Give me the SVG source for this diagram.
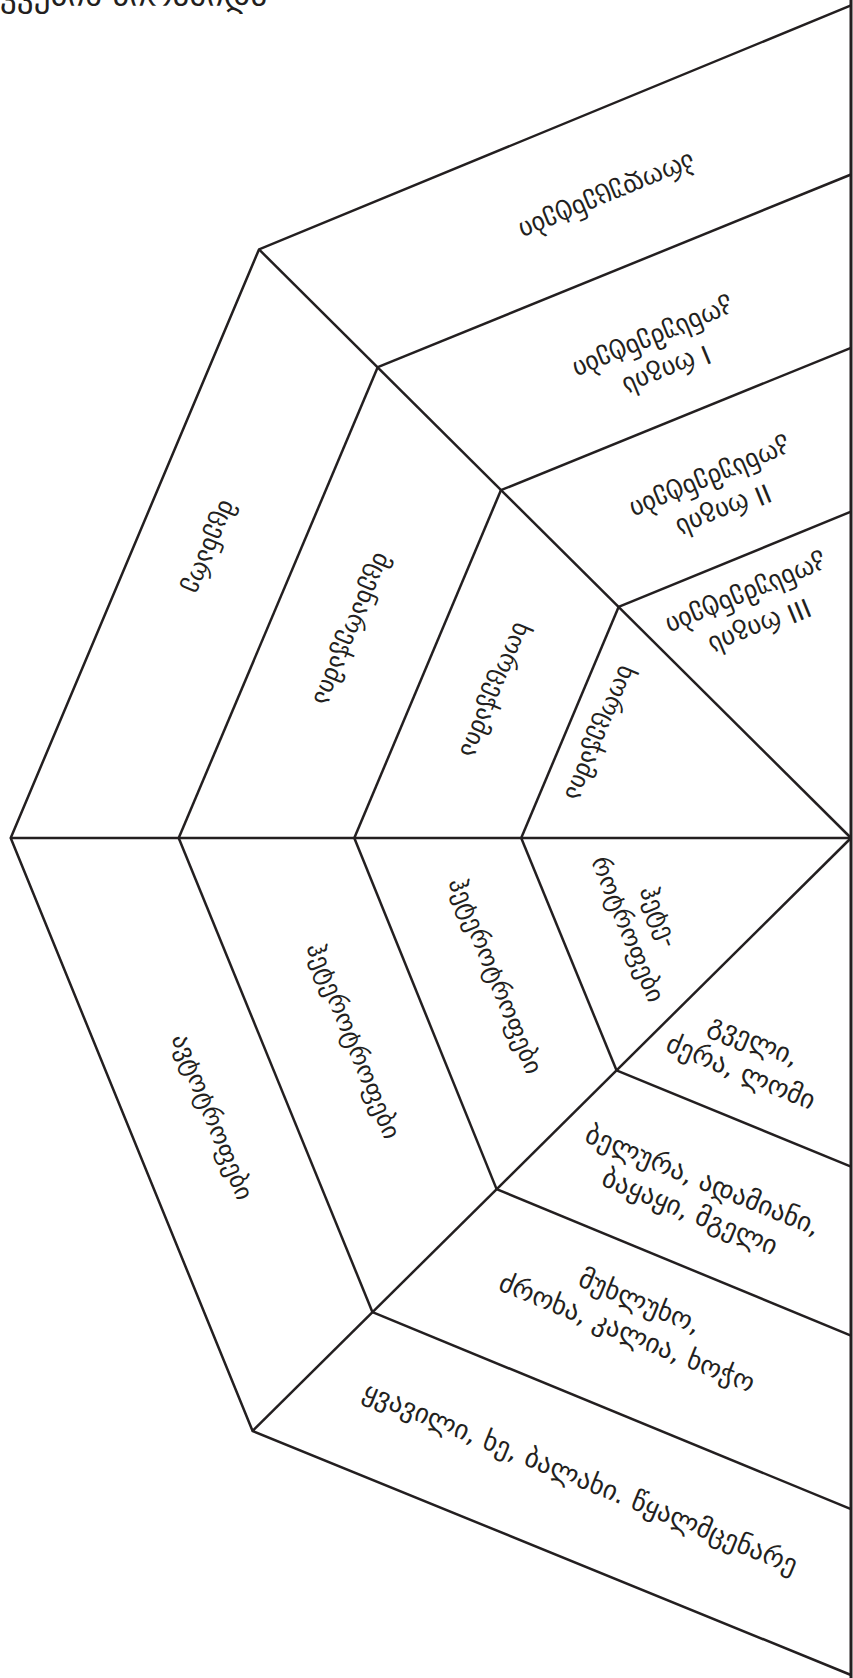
<svg xmlns="http://www.w3.org/2000/svg" width="853" height="1678" viewBox="0 0 853 1678">
<style>
.ln{fill:none;stroke:#231f20;stroke-width:2.5;stroke-linejoin:miter}
.t{font-family:"DejaVu Sans",sans-serif;font-size:25px;fill:#231f20;text-anchor:middle}
.tr{font-size:26px}
.br{font-size:27px}
</style>
<rect width="853" height="1678" fill="#fff"/>
<text id="title" x="0" y="6" style="font-family:'DejaVu Sans',sans-serif;font-size:33px;fill:#231f20">კვების პირამიდა</text>
<g id="connectors">
<line class="ln" x1="851" y1="0" x2="851" y2="1678" style="stroke-width:3"/>
<polyline class="ln" points="851,5.4 259,249.4 10.7,838 252.6,1431 851,1675"/>
<line class="ln" x1="10.7" y1="838" x2="851" y2="838"/>
<line class="ln" x1="259" y1="249.4" x2="851" y2="838"/>
<line class="ln" x1="252.6" y1="1431" x2="851" y2="838"/>
<line class="ln" x1="178.7" y1="838" x2="377.8" y2="367.1"/>
<line class="ln" x1="354.3" y1="838" x2="500.9" y2="490.2"/>
<line class="ln" x1="521.2" y1="838" x2="618.6" y2="606.9"/>
<line class="ln" x1="178.7" y1="838" x2="372.5" y2="1312.2"/>
<line class="ln" x1="354.3" y1="838" x2="496.6" y2="1189.1"/>
<line class="ln" x1="521.2" y1="838" x2="616.5" y2="1070.3"/>
<line class="ln" x1="377.8" y1="367.1" x2="851" y2="174.5"/>
<line class="ln" x1="500.9" y1="490.2" x2="851" y2="347.8"/>
<line class="ln" x1="618.6" y1="606.9" x2="851" y2="511.6"/>
<line class="ln" x1="372.5" y1="1312.2" x2="851" y2="1509.1"/>
<line class="ln" x1="496.6" y1="1189.1" x2="851" y2="1335.7"/>
<line class="ln" x1="616.5" y1="1070.3" x2="851" y2="1166.6"/>
</g>
<g id="n-producers" transform="translate(607,196) rotate(157.6)"><text class="t tr" y="8">პროდუცენტები</text></g>
<g id="n-cons1" transform="translate(660,354) rotate(157.6)"><text class="t tr" y="-9">I რიგის</text><text class="t tr" y="25">კონსუმენტები</text></g>
<g id="n-cons2" transform="translate(717,494) rotate(157.6)"><text class="t tr" y="-9">II რიგის</text><text class="t tr" y="25">კონსუმენტები</text></g>
<g id="n-cons3" transform="translate(753,610) rotate(157.6)"><text class="t tr" y="-9">III რიგის</text><text class="t tr" y="25">კონსუმენტები</text></g>
<g id="n-tl1" transform="translate(210,547) rotate(112.9)"><text class="t" y="8">მცენარე</text></g>
<g id="n-tl2" transform="translate(352,629) rotate(112.9)"><text class="t" y="8">მცენარეჭამია</text></g>
<g id="n-tl3" transform="translate(495,690) rotate(112.9)"><text class="t" y="8">ხორცეჭამია</text></g>
<g id="n-tl4" transform="translate(600,733) rotate(112.9)"><text class="t" y="8">ხორცეჭამია</text></g>
<g id="n-bl1" transform="translate(212,1117) rotate(67.8)"><text class="t" y="8">ავტოტროფები</text></g>
<g id="n-bl2" transform="translate(353,1041) rotate(67.8)"><text class="t" y="8">ჰეტეროტროფები</text></g>
<g id="n-bl3" transform="translate(495,976) rotate(67.8)"><text class="t" y="8">ჰეტეროტროფები</text></g>
<g id="n-bl4" transform="translate(643,923) rotate(67.8)"><text class="t" y="-9">ჰეტე-</text><text class="t" y="25">როტროფები</text></g>
<g id="n-br1" transform="translate(747,1057) rotate(22.2)"><text class="t br" y="-9">გველი,</text><text class="t br" y="25">ძერა, ლომი</text></g>
<g id="n-br2" transform="translate(696,1197) rotate(22.2)"><text class="t br" y="-9">ბელურა, ადამიანი,</text><text class="t br" y="25">ბაყაყი, მგელი</text></g>
<g id="n-br3" transform="translate(633,1318) rotate(22.2)"><text class="t br" y="-9">მუხლუხო,</text><text class="t br" y="25">ძროხა, კალია, ხოჭო</text></g>
<g id="n-br4" transform="translate(580,1479) rotate(22.2)"><text class="t br" y="8">ყვავილი, ხე, ბალახი. წყალმცენარე</text></g>
</svg>
